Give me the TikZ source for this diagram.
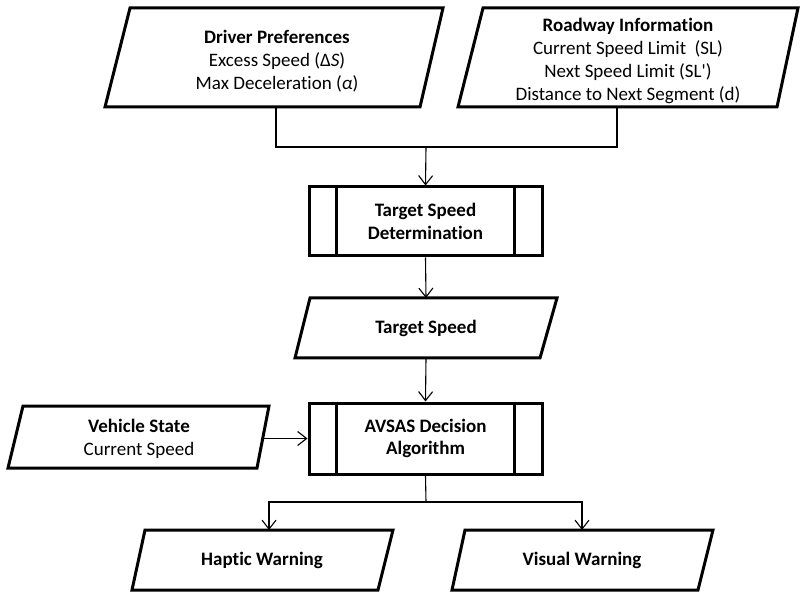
\documentclass[tikz,border=0pt]{standalone}
\usepackage{fontspec}
\setmainfont{Carlito}[Ligatures=NoCommon]
\usetikzlibrary{arrows.meta}
\begin{document}
\begin{tikzpicture}[x=1pt,y=-1pt,
  boxline/.style={draw=black, line width=3pt, line join=miter},
  procbox/.style={boxline, rectangle, inner sep=0pt, align=center, font=\fontsize{19}{22.7}\selectfont\bfseries},
  conn/.style={draw=black, line width=1.1pt},
  arr/.style={conn, -{Straight Barb[length=9pt, width=14pt]}},
  txt/.style={align=center, inner sep=0pt, font=\fontsize{19}{22.7}\selectfont},
  btxt/.style={txt, font=\fontsize{19}{22.7}\selectfont\bfseries},
]
\useasboundingbox (0,0) rectangle (803,601);

% Driver Preferences
\draw[boxline] (130,8) -- (443,8) -- (420,107) -- (105,107) -- cycle;
\node[txt] (dp) at (277,61) {\textbf{Driver Preferences}\\Excess Speed (Δ\textit{S})\\Max Deceleration (\textit{α})};
\coordinate (dp-s) at (276,107);

% Roadway Information
\draw[boxline] (483,8) -- (798,8) -- (777,107) -- (458,107) -- cycle;
\node[txt] (rw) at (628,61) {\textbf{Roadway Information}\\Current Speed Limit\ \ (SL)\\Next Speed Limit (SL\textquotesingle)\\Distance to Next Segment (d)};
\coordinate (rw-s) at (617,107);
\coordinate (join) at (426,147);

% Target Speed Determination
\node[procbox, minimum width=233pt, minimum height=69pt] (tsd) at (425.5,221.5) {Target Speed\\Determination};
\draw[boxline] ([xshift=29pt]tsd.north west) -- ([xshift=29pt]tsd.south west);
\draw[boxline] ([xshift=-29pt]tsd.north east) -- ([xshift=-29pt]tsd.south east);

% Target Speed
\draw[boxline] (310,298) -- (557,298) -- (540,358) -- (295,358) -- cycle;
\node[btxt] (ts) at (426,328) {Target Speed};
\coordinate (ts-n) at (426,298);
\coordinate (ts-s) at (426,358);

% AVSAS Decision Algorithm
\node[procbox, minimum width=233pt, minimum height=71pt] (av) at (425.5,438.5) {AVSAS Decision\\Algorithm};
\draw[boxline] ([xshift=29pt]av.north west) -- ([xshift=29pt]av.south west);
\draw[boxline] ([xshift=-29pt]av.north east) -- ([xshift=-29pt]av.south east);

% Vehicle State
\draw[boxline] (23,406) -- (269,406) -- (257,468) -- (8,468) -- cycle;
\node[txt] (vs) at (139,439) {\textbf{Vehicle State}\\Current\ Speed};
\coordinate (vs-e) at (263,438.5);

% Haptic Warning
\draw[boxline] (145,530) -- (393,530) -- (378,590) -- (132,590) -- cycle;
\node[btxt] (hw) at (262,560) {Haptic Warning};
\coordinate (hw-n) at (269,530);

% Visual Warning
\draw[boxline] (465,530) -- (713,530) -- (698,590) -- (452,590) -- cycle;
\node[btxt] (vw) at (582,560) {Visual Warning};
\coordinate (vw-n) at (582,530);

\coordinate (split) at (426,502);

% connectors
\draw[conn] (dp-s) |- (join) -| (rw-s);
\draw[arr] (join) -- (tsd.north);
\draw[arr] (tsd.south) -- (ts-n);
\draw[arr] (ts-s) -- (av.north);
\draw[arr] (vs-e) -- (av.west);
\draw[conn] (av.south) -- (split);
\draw[arr] (split) -| (hw-n);
\draw[arr] (split) -| (vw-n);
\end{tikzpicture}
\end{document}
